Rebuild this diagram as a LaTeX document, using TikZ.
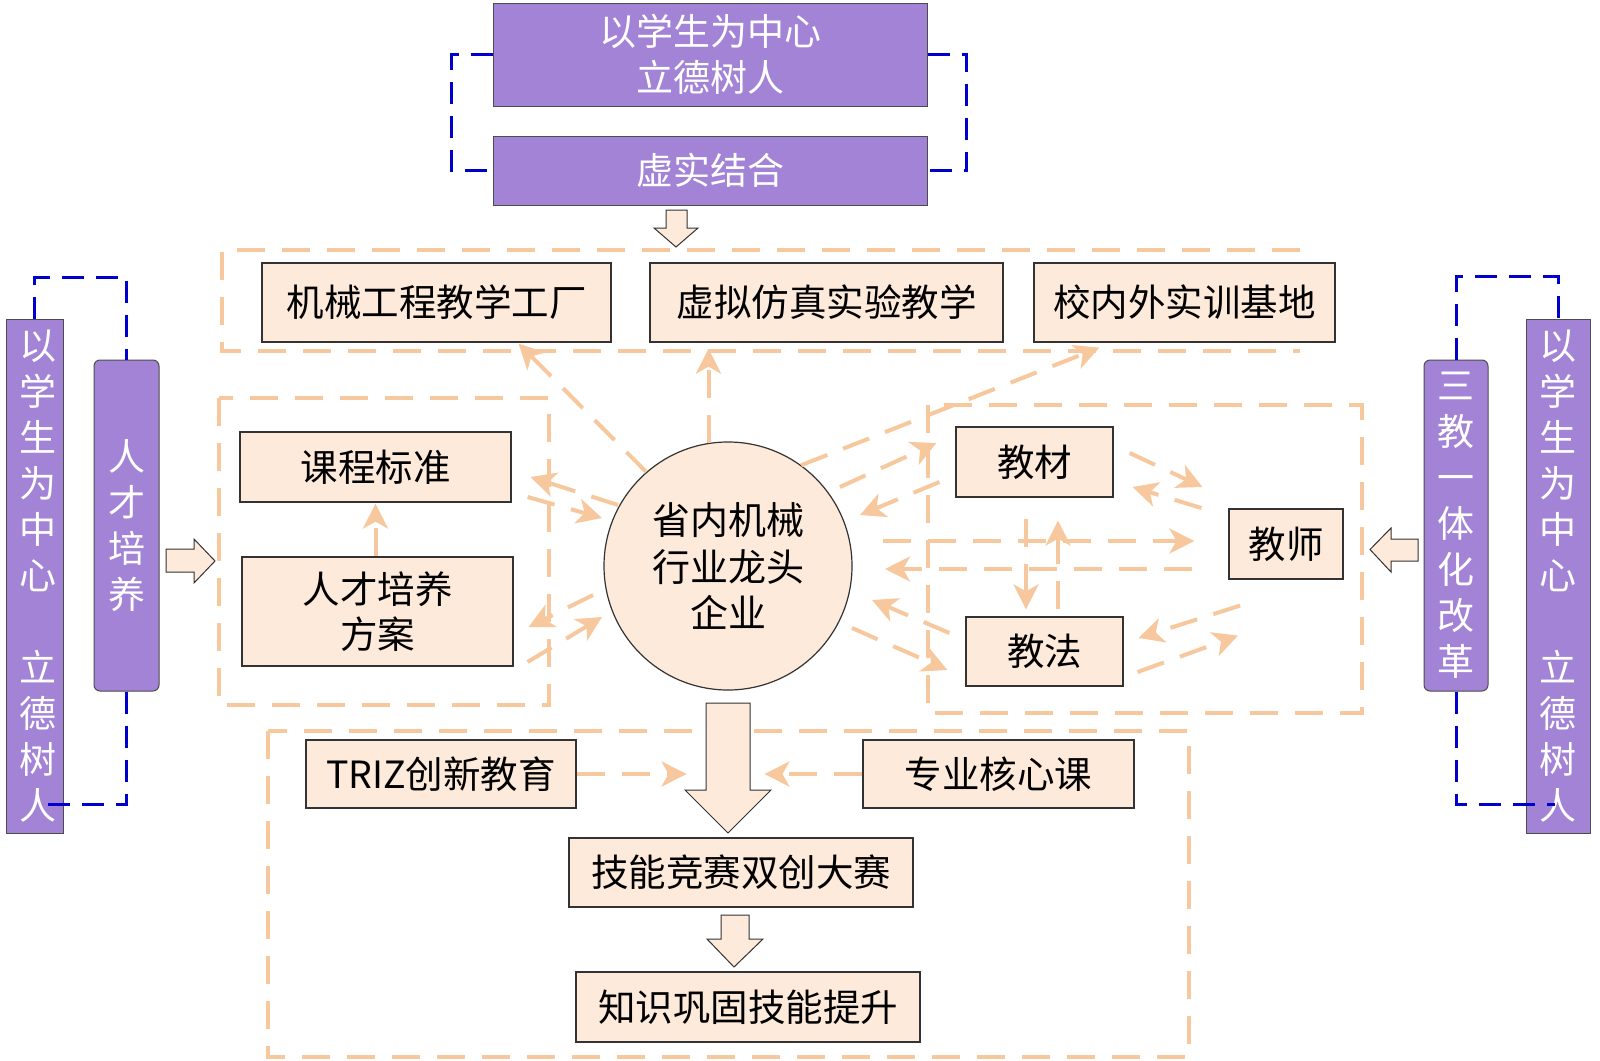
\documentclass[tikz,border=0pt]{standalone}
\usepackage{fontspec}
\setmainfont{Noto Sans CJK SC}
\usetikzlibrary{arrows.meta,calc}
\definecolor{purp}{RGB}{163,131,214}
\definecolor{peach}{RGB}{253,234,218}
\definecolor{orng}{RGB}{247,200,158}
\definecolor{bluel}{RGB}{0,0,205}
\begin{document}
\begin{tikzpicture}[x=1pt,y=-1pt,
  pbox/.style={draw=black!70,fill=purp,text=white,line width=1pt,inner sep=0pt,align=center,font=\fontsize{37}{46}\selectfont},
  obox/.style={draw=black!80,fill=peach,line width=1.2pt,inner sep=0pt,align=center,font=\fontsize{37.5}{45}\selectfont},
  odash/.style={draw=orng,line width=4pt,dash pattern=on 28pt off 17pt},
  oarr/.style={odash,-{Stealth[length=25pt,width=25pt,inset=7pt]}},
  bdash/.style={draw=bluel,line width=3pt,dash pattern=on 22pt off 12pt},
  blk/.style={draw=black!80,fill=peach,line width=1pt}
]
\useasboundingbox (0,0) rectangle (1600,1060);
\fill[white] (0,0) rectangle (1600,1060);

% dashed frames
\draw[odash] (1300,250) -- (222,250) -- (222,351) -- (1300,351);
\draw[odash] (219,398) rectangle (549,705);
\draw[odash] (928,405) rectangle (1362,713);
\draw[odash] (268,731) rectangle (1189,1057);

% top purple boxes
\node[pbox,minimum width=434pt,minimum height=103pt] (topA) at (710,54.5) {以学生为中心\\立德树人};
\node[pbox,minimum width=434pt,minimum height=69pt] (topB) at (710,170.5) {虚实结合};

% side bars
\node[pbox,minimum width=57pt,minimum height=514pt] (barL) at (34.5,576) {\hspace*{8pt}以\\\hspace*{8pt}学\\\hspace*{8pt}生\\\hspace*{8pt}为\\\hspace*{8pt}中\\\hspace*{8pt}心\\[46pt]\hspace*{8pt}立\\\hspace*{8pt}德\\\hspace*{8pt}树\\\hspace*{8pt}人};
\node[pbox,rounded corners=6pt,minimum width=65pt,minimum height=331pt] (rcL) at (126.5,525.5) {人\\才\\培\\养};
\node[pbox,minimum width=64pt,minimum height=514pt] (barR) at (1558,576) {以\\学\\生\\为\\中\\心\\[46pt]立\\德\\树\\人};
\node[pbox,rounded corners=6pt,minimum width=64pt,minimum height=331pt] (rcR) at (1456,525.5) {三\\教\\一\\体\\化\\改\\革};

% top row
\node[obox,minimum width=349pt,minimum height=79pt] (box1) at (436.5,302.5) {机械工程教学工厂};
\node[obox,minimum width=353pt,minimum height=79pt] (box2) at (826.5,302.5) {虚拟仿真实验教学};
\node[obox,minimum width=301pt,minimum height=79pt] (box3) at (1184.5,302.5) {校内外实训基地};

% left group
\node[obox,minimum width=271pt,minimum height=70pt] (kc) at (375.5,467) {课程标准};
\node[obox,minimum width=271pt,minimum height=109pt] (fa) at (377.5,611.5) {人才培养\\方案};

% circle
\node[obox,circle,minimum size=248pt,font=\fontsize{38}{46.5}\selectfont] (circ) at (728,566) {省内机械\\行业龙头\\企业};

% right group
\node[obox,minimum width=157pt,minimum height=70pt] (jc) at (1034.5,462) {教材};
\node[obox,minimum width=114pt,minimum height=70pt] (js) at (1286,544) {教师};
\node[obox,minimum width=157pt,minimum height=69pt] (jf) at (1044.5,651.5) {教法};

% bottom group
\node[obox,minimum width=270pt,minimum height=68pt] (triz) at (441,774) {TRIZ创新教育};
\node[obox,minimum width=271pt,minimum height=68pt] (zy) at (998.5,774) {专业核心课};
\node[obox,minimum width=344pt,minimum height=69pt] (jn) at (741,872.5) {技能竞赛双创大赛};
\node[obox,minimum width=344pt,minimum height=70pt] (zs) at (748,1007) {知识巩固技能提升};

% block arrows
\draw[blk] (666,210) -- (687,210) -- (687,228) -- (698,228) -- (676,247) -- (654,228) -- (666,228) -- cycle;
\draw[blk] (166,549) -- (194,549) -- (194,539) -- (215,561) -- (194,583) -- (194,572) -- (166,572) -- cycle;
\draw[blk] (1418,539) -- (1391,539) -- (1391,528) -- (1370,549.5) -- (1391,572) -- (1391,561) -- (1418,561) -- cycle;
\draw[blk] (706,703) -- (750,703) -- (750,790) -- (771,790) -- (728,833) -- (685,790) -- (706,790) -- cycle;
\draw[blk] (721,915) -- (749,915) -- (749,939) -- (763,939) -- (734,967) -- (707,939) -- (721,939) -- cycle;

% orange arrows
\draw[oarr] (circ.131) -- ($(box1.south east)+(-93,1)$);
\draw[oarr] (circ.99) -- ($(circ.99 |- box2.south)+(0,6)$);
\draw[oarr] (circ.54) -- ($(box3.south west)+(66,5)$);
\draw[oarr] ($(circ.center)+(112,-79)$) -- ($(jc.west)+(-19,-19)$);
\draw[oarr] ($(jc.west)+(-16,20)$) -- ($(circ.center)+(132,-51)$);
\draw[oarr] ($(circ.center)+(155,-25)$) -- ($(js.west)+(-34,-3)$);
\draw[oarr] ($(js.west)+(-36,25)$) -- ($(circ.center)+(157,3)$);
\draw[oarr] ($(jf.west)+(-16,-18.5)$) -- ($(circ.center)+(144,34)$);
\draw[oarr] ($(circ.center)+(124,62)$) -- ($(jf.west)+(-18,18.5)$);
\draw[oarr] ($(jc.east)+(16,-9)$) -- ($(js.west)+(-26,-57)$);
\draw[oarr] ($(js.west)+(-27,-36)$) -- ($(jc.east)+(19,25)$);
\draw[oarr] ($(jc.south)+(-8.5,21)$) -- ($(jf.north)+(-18.5,-7)$);
\draw[oarr] ($(jf.north)+(13.5,-7)$) -- ($(jc.south)+(23.5,23)$);
\draw[oarr] ($(js.south)+(-46,26)$) -- ($(jf.east)+(15,-13.5)$);
\draw[oarr] ($(jf.east)+(14,20.5)$) -- ($(js.south)+(-48,56)$);
\draw[oarr] ($(circ.center)+(-110,-61)$) -- ($(kc.east)+(19,10)$);
\draw[oarr] ($(kc.east)+(16,30)$) -- ($(circ.center)+(-126,-48)$);
\draw[oarr] ($(circ.center)+(-135,29)$) -- ($(fa.east)+(15,15.5)$);
\draw[oarr] ($(fa.east)+(14,50.5)$) -- ($(circ.center)+(-126,51)$);
\draw[oarr] ($(fa.north)+(-2,0)$) -- ($(kc.south)+(0,1)$);
\draw[oarr] (triz.east) -- ($(triz.east)+(110,0)$);
\draw[oarr] (zy.west) -- ($(zy.west)+(-98,0)$);

% blue dashed connectors
\draw[bdash] (topA.west) -- ++(-41,0) |- (topB.west);
\draw[bdash] (topA.east) -- ++(39,0) |- (topB.east);
\draw[bdash] (barL.north) -- ++(0,-41) -| (rcL.north);
\draw[bdash] (rcL.south) |- ($(barL.south)+(13.5,-29)$);
\draw[bdash] (rcR.north) -- ++(0,-83) -| (barR.north);
\draw[bdash] (rcR.south) |- ($(barR.south)+(-3,-29)$);
\end{tikzpicture}
\end{document}
